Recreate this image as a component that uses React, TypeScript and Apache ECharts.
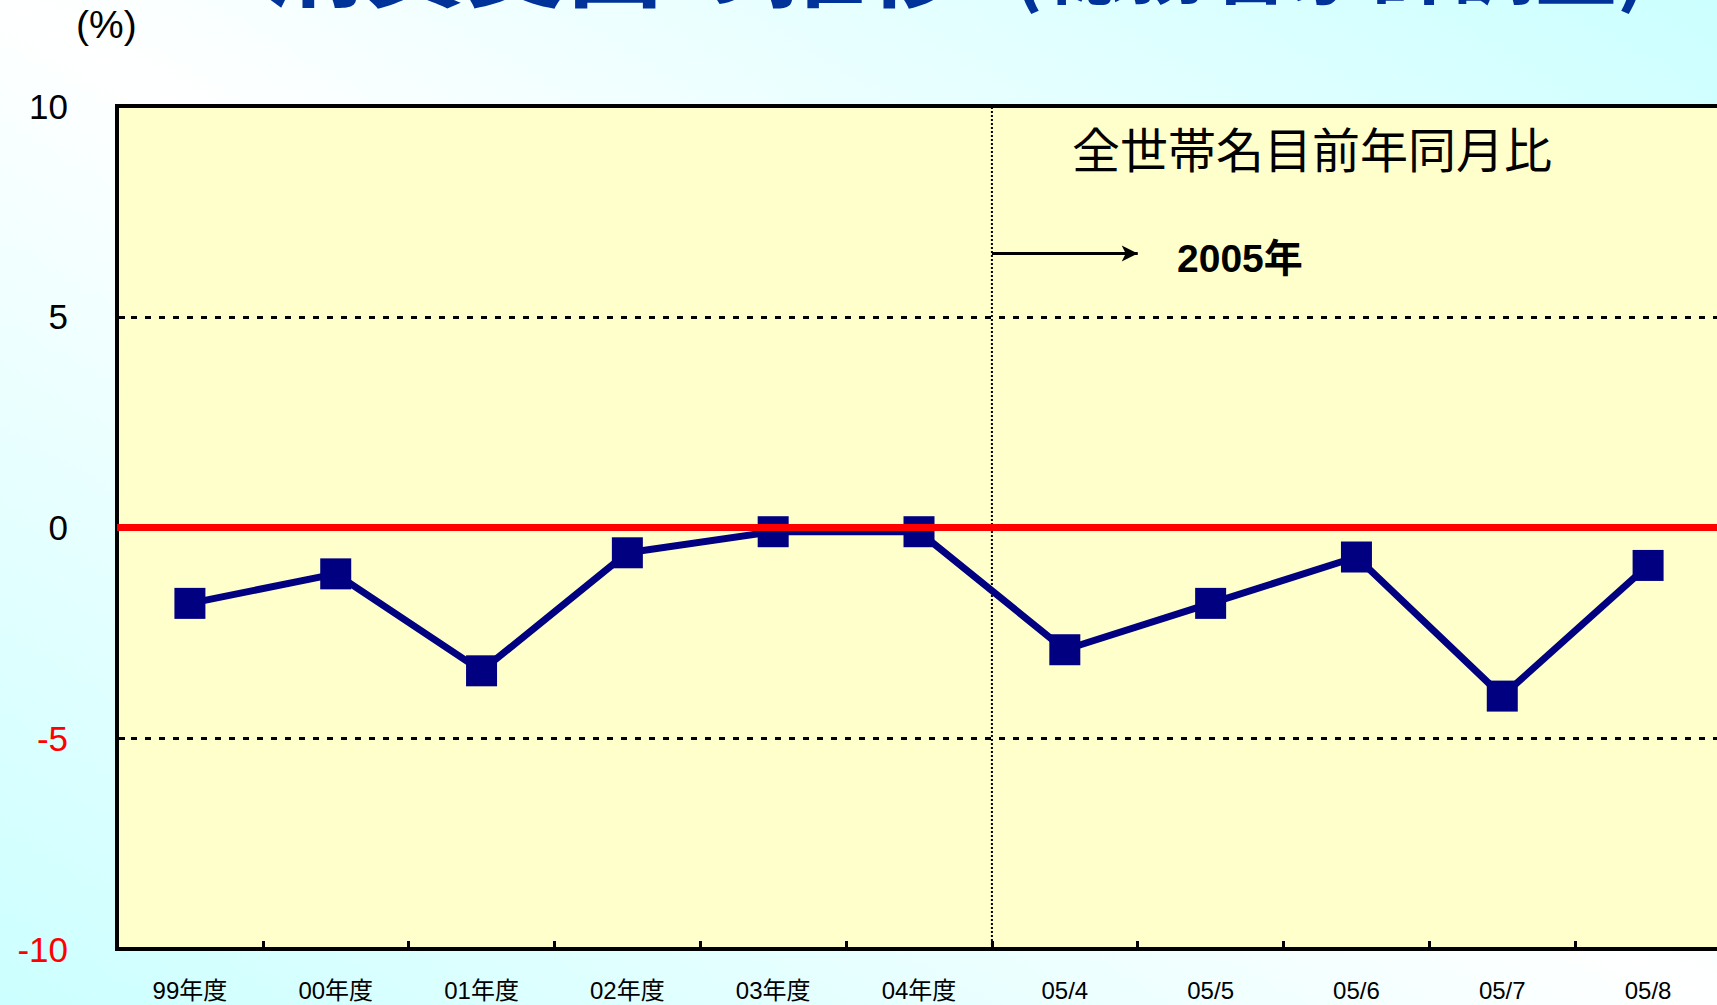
import React, { useEffect, useRef } from "react";
import * as echarts from "echarts";

const categories = ["99年度", "00年度", "01年度", "02年度", "03年度", "04年度", "05/4", "05/5", "05/6", "05/7", "05/8"];
const values = [-1.8, -1.1, -3.4, -0.6, -0.1, -0.1, -2.9, -1.8, -0.7, -4.0, -0.9];
const yMin = -10;
const yMax = 10;
const yInterval = 5;
const dividerPos = 6; // boundary between 04年度 and 05/4
const arrowLevel = 6.5;
const arrowEnd = 7;
const zeroLine = 0;

const titleMain = "消費支出の推移";
const titleSub = "(総務省家計調査)";
const unitLabel = "(%)";
const noteLabel = "全世帯名目前年同月比";
const yearLabel = "2005年";

export default function App() {
  const ref = useRef<HTMLDivElement>(null);
  useEffect(() => {
    if (!ref.current) return;
    const chart = echarts.init(ref.current, null, { renderer: "svg" });
    const latin = '"Liberation Sans", "Noto Sans CJK JP", sans-serif';
    const cjk = '"Noto Sans CJK JP", sans-serif';
    chart.setOption({
      animation: false,
      grid: {
        left: 117,
        top: 106,
        width: 1604,
        height: 843,
        show: true,
        backgroundColor: "#ffffcc",
        borderColor: "#000",
        borderWidth: 4,
        outerBoundsMode: "none",
      },
      xAxis: [
        {
          type: "category",
          data: categories,
          boundaryGap: true,
          axisLine: { show: true, onZero: false, lineStyle: { color: "#000", width: 4 } },
          axisTick: { show: true, inside: true, length: 8, lineStyle: { color: "#000", width: 3 } },
          axisLabel: { color: "#000", fontSize: 24, fontFamily: latin, margin: 29, interval: 0 },
          splitLine: { show: false },
        },
        {
          type: "value",
          min: 0,
          max: categories.length,
          show: false,
        },
      ],
      yAxis: {
        type: "value",
        min: yMin,
        max: yMax,
        interval: yInterval,
        axisLine: { show: true, onZero: false, lineStyle: { color: "#000", width: 4 } },
        axisTick: { show: true, inside: true, length: 8, lineStyle: { color: "#000", width: 3 } },
        axisLabel: {
          fontSize: 35,
          fontFamily: latin,
          margin: 49,
          color: (v: any) => (Number(v) < 0 ? "#ff0000" : "#000000"),
        },
        splitLine: { show: true, lineStyle: { color: "#000", width: 3, type: [6, 8] } },
      },
      series: [
        {
          type: "line",
          xAxisIndex: 1,
          data: [[dividerPos, yMin], [dividerPos, yMax]],
          symbol: "none",
          lineStyle: { color: "#000", width: 2, type: [2, 2] },
          z: 1,
          silent: true,
          markLine: {
            silent: true,
            symbol: ["none", "arrow"],
            symbolSize: [12, 16],
            label: { show: false },
            lineStyle: { color: "#000", width: 3, type: "solid" },
            data: [[{ coord: [dividerPos, arrowLevel] }, { coord: [arrowEnd, arrowLevel] }]],
          },
        },
        {
          type: "line",
          data: values,
          symbol: "rect",
          symbolSize: 31,
          lineStyle: { color: "#000080", width: 7 },
          itemStyle: { color: "#000080" },
          z: 2,
        },
        {
          type: "line",
          xAxisIndex: 1,
          data: [[0, zeroLine], [categories.length, zeroLine]],
          symbol: "none",
          lineStyle: { color: "#ff0000", width: 7 },
          z: 3,
          silent: true,
        },
      ],
      graphic: [
        {
          type: "text",
          left: 265,
          top: -95,
          style: { text: titleMain, font: `bold 100px ${cjk}`, fill: "#003399" },
        },
        {
          type: "text",
          left: 1012,
          top: -80,
          style: { text: titleSub, font: `bold 82px ${cjk}`, fill: "#003399" },
        },
        {
          type: "text",
          left: 76,
          top: 5,
          style: { text: unitLabel, font: `39px ${latin}`, fill: "#000" },
        },
        {
          type: "text",
          left: 1072,
          top: 123,
          style: { text: noteLabel, font: `48px ${cjk}`, fill: "#000" },
        },
        {
          type: "text",
          left: 1177,
          top: 239,
          style: { text: yearLabel, font: `bold 39px ${latin}`, fill: "#000" },
        },
      ],
    });
    return () => chart.dispose();
  }, []);
  return (
    <div
      ref={ref}
      style={{
        position: "absolute",
        left: 0,
        top: 0,
        width: 1717,
        height: 1005,
        background: "linear-gradient(to top right, #ccffff 0%, #ffffff 50%, #ccffff 100%)",
      }}
    />
  );
}
